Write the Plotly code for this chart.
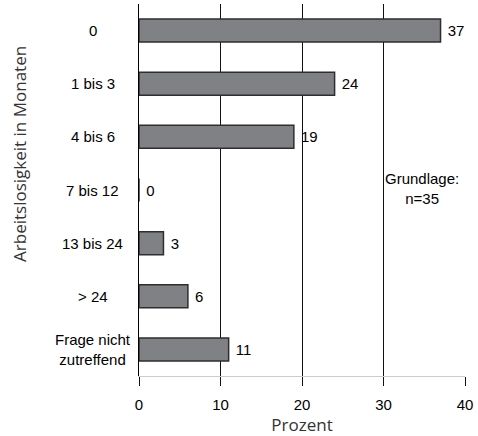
import plotly.graph_objects as go

categories = ["0", "1 bis 3", "4 bis 6", "7 bis 12", "13 bis 24", "> 24", "Frage nicht<br>zutreffend"]
values = [37, 24, 19, 0, 3, 6, 11]
x_ticks = [0, 10, 20, 30, 40]
note = "Grundlage:<br>n=35"

narrow = "Liberation Sans Narrow, Liberation Sans, Arial, sans-serif"
regular = "Open Sans, Roboto, sans-serif"

fig = go.Figure()
fig.add_trace(go.Bar(
    y=categories, x=values, orientation="h",
    marker=dict(color="#808185", line=dict(color="#2e2e2e", width=1.5)),
    text=["\u00a0" + str(v) for v in values], textposition="outside",
    textfont=dict(family=narrow, size=15, color="black"),
    cliponaxis=False, width=0.433,
))

for c in categories:
    fig.add_annotation(x=-0.1426, xref="paper", y=c, yref="y", text=c,
                       showarrow=False, xanchor="center", align="center",
                       font=dict(family=narrow, size=15, color="black"))

fig.add_annotation(x=34.7, y=categories[3], text=note, showarrow=False,
                   xanchor="center", align="center", yshift=2,
                   font=dict(family=narrow, size=15, color="black"))

fig.add_annotation(x=-0.365, xref="paper", y=0.597, yref="paper",
                   text="Arbeitslosigkeit in Monaten", textangle=-90,
                   showarrow=False, xanchor="center", yanchor="middle",
                   font=dict(family=regular, size=17, color="#333"))

fig.update_layout(
    width=478, height=436,
    margin=dict(l=139, r=13, t=4, b=60, autoexpand=False),
    plot_bgcolor="white", paper_bgcolor="white",
    showlegend=False,
    xaxis=dict(range=[0, 40], tickvals=x_ticks, showgrid=True, gridcolor="#111", gridwidth=1,
               zeroline=False, showline=True, linecolor="#cccccc", linewidth=1,
               ticks="outside", ticklen=9, tickcolor="#111", ticklabelstandoff=6,
               tickfont=dict(family=narrow, size=15, color="black"),
               title=dict(text="Prozent", font=dict(family=regular, size=17, color="#333"), standoff=0)),
    yaxis=dict(range=[6.5, -0.5], showticklabels=False, showgrid=False, zeroline=False,
               showline=True, linecolor="black", linewidth=1, ticks=""),
)

fig.write_html("out.html", config={"displayModeBar": False},
               post_script="document.body.style.margin='0';")
